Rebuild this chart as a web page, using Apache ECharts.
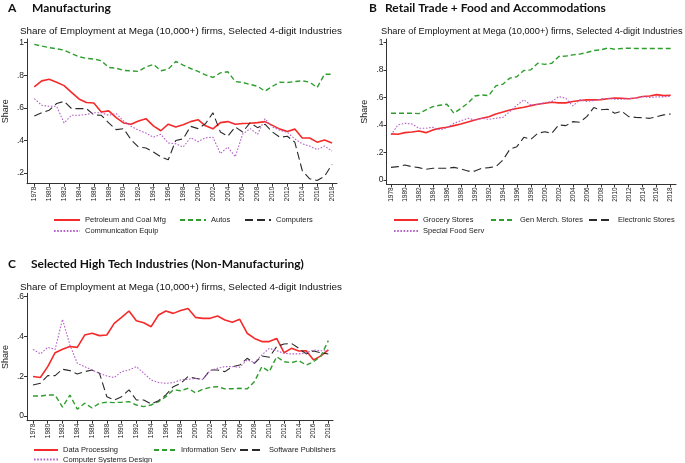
<!DOCTYPE html>
<html><head><meta charset="utf-8">
<script src="https://cdn.jsdelivr.net/npm/echarts@6/dist/echarts.min.js"></script>
<style>html,body{margin:0;padding:0;background:#fff}#c{width:685px;height:463px}</style>
</head><body><div id="c"></div>
<script>
var years = [];
for (var y = 1978; y <= 2018; y++) years.push(y);
var yearTicks = [1978,1980,1982,1984,1986,1988,1990,1992,1994,1996,1998,2000,2002,2004,2006,2008,2010,2012,2014,2016,2018];

// Panel A: Manufacturing
var petroleum = [.729,.766,.776,.758,.737,.696,.655,.633,.63,.575,.582,.54,.508,.50,.52,.534,.49,.46,.50,.483,.497,.516,.528,.49,.472,.51,.516,.50,.504,.506,.51,.516,.493,.47,.456,.47,.415,.415,.39,.403,.385];
var autos = [.99,.98,.97,.963,.955,.934,.914,.904,.90,.89,.848,.844,.83,.828,.824,.852,.867,.828,.838,.885,.863,.842,.824,.803,.787,.815,.822,.762,.756,.744,.733,.703,.733,.758,.756,.762,.766,.758,.725,.807,.807];
var computers = [.55,.57,.586,.627,.64,.596,.596,.596,.557,.555,.508,.467,.473,.405,.36,.354,.33,.30,.282,.40,.41,.487,.473,.503,.57,.452,.426,.483,.452,.51,.479,.50,.452,.42,.426,.39,.216,.165,.155,.18,.253];
var commEquip = [.657,.616,.61,.61,.508,.555,.555,.56,.57,.57,.555,.565,.52,.487,.463,.446,.42,.438,.385,.38,.36,.417,.393,.417,.42,.32,.36,.30,.44,.473,.438,.534,.483,.463,.45,.41,.38,.366,.344,.366,.335];

// Panel B: Retail Trade + Food and Accommodations
var grocery = [.335,.332,.344,.349,.356,.344,.364,.376,.383,.395,.407,.422,.436,.448,.46,.48,.494,.509,.519,.528,.54,.55,.558,.565,.56,.56,.57,.577,.582,.582,.584,.59,.596,.594,.59,.596,.606,.61,.62,.613,.616];
var genMerch = [.485,.485,.485,.485,.482,.51,.533,.543,.55,.485,.52,.558,.61,.618,.613,.684,.696,.74,.75,.795,.80,.848,.84,.848,.897,.90,.909,.914,.926,.94,.945,.958,.95,.955,.958,.955,.955,.955,.955,.955,.955];
var electronic = [.092,.097,.109,.097,.09,.078,.085,.085,.085,.092,.08,.065,.065,.085,.09,.097,.145,.223,.242,.31,.296,.34,.35,.34,.40,.395,.424,.42,.46,.526,.51,.514,.485,.50,.46,.455,.453,.448,.46,.473,.48];
var specialFood = [.327,.40,.412,.407,.376,.376,.383,.364,.38,.412,.43,.448,.436,.448,.44,.448,.455,.497,.543,.582,.545,.55,.562,.57,.606,.594,.538,.582,.57,.577,.587,.594,.587,.587,.59,.594,.606,.60,.604,.604,.608];

// Panel C: Selected High Tech Industries (Non-Manufacturing)
var dataProc = [.198,.193,.248,.318,.335,.349,.345,.407,.416,.404,.407,.466,.496,.528,.479,.469,.449,.508,.528,.516,.53,.541,.496,.491,.491,.503,.483,.471,.486,.416,.39,.374,.374,.39,.318,.34,.327,.328,.282,.302,.332];
var infoServ = [.10,.10,.105,.105,.044,.105,.034,.064,.04,.064,.069,.067,.069,.072,.055,.047,.055,.072,.097,.131,.127,.139,.117,.134,.144,.147,.136,.137,.139,.136,.173,.248,.223,.298,.273,.268,.278,.256,.273,.302,.379];
var softwarePub = [.156,.164,.203,.203,.235,.228,.211,.223,.231,.215,.097,.08,.097,.131,.08,.08,.06,.077,.106,.147,.164,.198,.189,.184,.231,.231,.223,.248,.256,.29,.265,.302,.295,.349,.362,.365,.34,.312,.327,.318,.312];
var compSys = [.335,.312,.345,.335,.486,.357,.265,.248,.231,.215,.201,.193,.223,.231,.248,.215,.181,.168,.164,.168,.181,.184,.189,.184,.228,.24,.248,.248,.245,.282,.268,.307,.34,.328,.315,.312,.312,.318,.332,.328,.328];

var yTicksA = [0.2,0.4,0.6,0.8,1];
var yTicksB = [0,0.2,0.4,0.6,0.8,1];
var yTicksC = [0,0.2,0.4,0.6];

var RED = '#f52a2a', GREEN = '#2f9e2f', BLACK = '#2a2a2a', PURPLE = '#b462c8';
var FONT = 'Liberation Sans';

function pairs(vals){ return years.map(function(yr,i){ return [yr, vals[i]]; }); }
function yfmt(v){ if (Math.abs(v) < 1e-9) return '0'; if (Math.abs(v-1) < 1e-9) return '1'; return String(+v.toFixed(1)).replace(/^0/, ''); }
function xfmt(v){ return String(Math.round(v)); }

var styles = {
  red: {color: RED, width: 1.6, type: 'solid'},
  green: {color: GREEN, width: 1.4, type: [5, 3]},
  black: {color: BLACK, width: 1.1, type: [8, 4]},
  purple: {color: PURPLE, width: 1.1, type: [1.6, 1.6]}
};

function mkX(idx, min, max){
  return {type:'value', gridIndex: idx, min: min, max: max,
    axisLine:{show:true, onZero:false, lineStyle:{color:'#333', width:1}},
    axisTick:{show:true, length:3, customValues: yearTicks, lineStyle:{color:'#333'}},
    axisLabel:{customValues: yearTicks, formatter: xfmt, rotate: 90, fontSize: 6.5, color:'#222', fontFamily: FONT, margin: 3},
    splitLine:{show:false}};
}
function mkY(idx, min, max, ticks){
  return {type:'value', gridIndex: idx, min: min, max: max,
    name: 'Share', nameLocation: 'middle', nameGap: 17,
    nameTextStyle:{fontSize: 9, color:'#222', fontFamily: FONT},
    axisLine:{show:true, lineStyle:{color:'#333', width:1}},
    axisTick:{show:true, length:3, customValues: ticks, lineStyle:{color:'#333'}},
    axisLabel:{customValues: ticks, formatter: yfmt, fontSize: 8.5, color:'#222', fontFamily: FONT, margin: 3},
    splitLine:{show:false}};
}
function mkS(name, vals, idx, st){
  return {type:'line', name: name, data: pairs(vals), xAxisIndex: idx, yAxisIndex: idx,
    symbol:'none', showSymbol:false, silent:true, animation:false,
    lineStyle:{color: st.color, width: st.width, type: st.type}, itemStyle:{color: st.color}};
}
function mkL(name, left, top, w){
  return {data:[name], left: left, top: top, padding: 0, itemWidth: w, itemHeight: 8, itemGap: 0,
    selectedMode: false, itemStyle:{opacity: 0, borderWidth: 0},
    textStyle:{fontSize: 7.5, color:'#222', fontFamily: FONT}};
}
function mkT(text, left, top, size, bold, family){
  return {text: text, left: left, top: top, padding: 0,
    textStyle:{fontSize: size, fontWeight: bold ? 'bold' : 'normal', color:'#111', fontFamily: family}};
}

var SUB = 'Share of Employment at Mega (10,000+) firms, Selected 4-digit Industries';
var option = {
  backgroundColor: '#fff',
  animation: false,
  title: [
    mkT('A', 8, 2, 12, true, 'Lato'),
    mkT('Manufacturing', 32, 2, 12, true, 'Lato'),
    mkT('B', 369, 2, 12, true, 'Lato'),
    mkT('Retail Trade + Food and Accommodations', 385, 2, 12, true, 'Lato'),
    mkT('C', 8, 258, 12, true, 'Lato'),
    mkT('Selected High Tech Industries (Non-Manufacturing)', 31, 258, 12, true, 'Lato'),
    mkT(SUB, 20, 26.5, 9.9, false, FONT),
    mkT(SUB, 381, 27, 9.25, false, FONT),
    mkT(SUB, 20, 282.5, 9.9, false, FONT)
  ],
  grid: [
    {left: 26, right: 348, top: 39, height: 144.7},
    {left: 386.5, right: 9, top: 39, height: 145.3},
    {left: 26, right: 352, top: 293.3, height: 127.4}
  ],
  xAxis: [mkX(0, 1977.02, 2018.67), mkX(1, 1977.36, 2018.76), mkX(2, 1977.19, 2018.63)],
  yAxis: [mkY(0, 0.135, 1.023, yTicksA), mkY(1, -0.031, 1.024, yTicksB), mkY(2, -0.024, 0.617, yTicksC)],
  legend: [
    mkL('Petroleum and Coal Mfg', 53, 216, 26),
    mkL('Autos', 179, 216, 26),
    mkL('Computers', 244, 216, 26),
    mkL('Communication Equip', 53, 227, 26),
    mkL('Grocery Stores', 393, 216, 24),
    mkL('Gen Merch. Stores', 490, 216, 24),
    mkL('Electronic Stores', 588, 216, 24),
    mkL('Special Food Serv', 393, 227, 24),
    mkL('Data Processing', 33, 446, 24),
    mkL('Information Serv', 153, 446, 22),
    mkL('Software Publishers', 239, 446, 24),
    mkL('Computer Systems Design', 33, 455.5, 24)
  ],
  series: [
    mkS('Petroleum and Coal Mfg', petroleum, 0, styles.red),
    mkS('Autos', autos, 0, styles.green),
    mkS('Computers', computers, 0, styles.black),
    mkS('Communication Equip', commEquip, 0, styles.purple),
    mkS('Grocery Stores', grocery, 1, styles.red),
    mkS('Gen Merch. Stores', genMerch, 1, styles.green),
    mkS('Electronic Stores', electronic, 1, styles.black),
    mkS('Special Food Serv', specialFood, 1, styles.purple),
    mkS('Data Processing', dataProc, 2, styles.red),
    mkS('Information Serv', infoServ, 2, styles.green),
    mkS('Software Publishers', softwarePub, 2, styles.black),
    mkS('Computer Systems Design', compSys, 2, styles.purple)
  ]
};
var chart = echarts.init(document.getElementById('c'), null, {renderer:'canvas'});
chart.setOption(option);
</script>
</body></html>
